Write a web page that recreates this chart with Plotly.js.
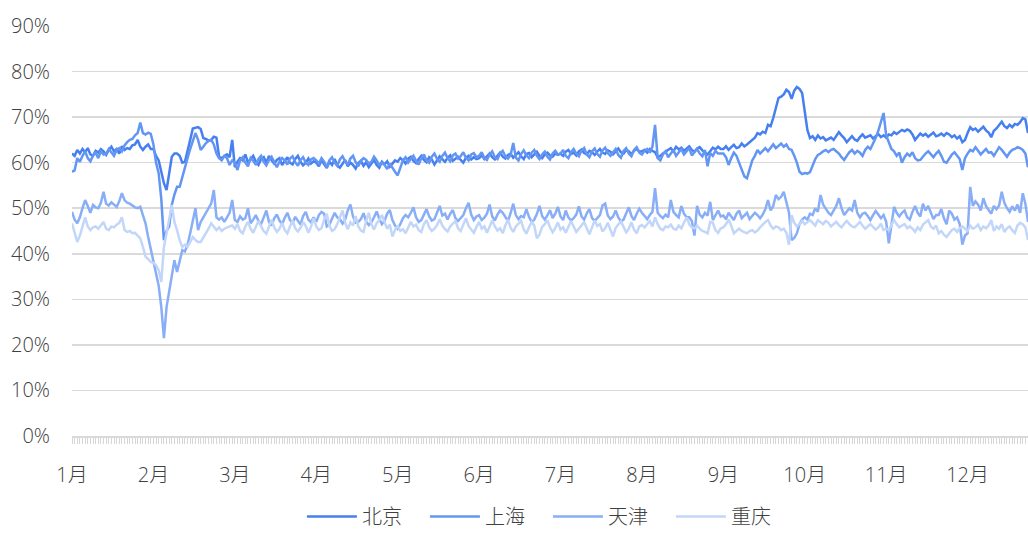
<!DOCTYPE html>
<html>
<head>
<meta charset="utf-8">
<script src="https://cdn.plot.ly/plotly-3.0.1.min.js"></script>
<style>
  html, body { margin: 0; padding: 0; background: #ffffff; }
  #chart { width: 1028px; height: 536px; }
</style>
</head>
<body>
<div id="chart"></div>
<script>
// Month tick labels (one label every 31 daily points)
const monthLabels = ['1月','2月','3月','4月','5月','6月','7月','8月','9月','10月','11月','12月'];
const seriesNames = ['北京','上海','天津','重庆'];

// Daily values (%), one row per month
const beijing = [
  62.0,61.5,62.8,62.0,63.0,62.3,63.2,61.8,61.5,62.6,62.2,63.0,62.5,61.7,62.8,63.5,62.5,63.0,62.0,63.6,62.8,63.2,63.0,63.8,64.0,65.0,63.5,62.8,63.5,64.0,63.0,
  63.0,61.5,60.5,58.0,55.5,54.0,58.0,61.3,62.0,62.0,61.5,60.0,60.2,63.0,65.0,67.5,67.6,67.8,67.4,65.4,65.2,64.8,65.0,65.7,65.5,61.3,61.0,61.5,61.8,61.2,65.0,
  59.0,60.2,61.0,60.5,61.8,60.0,60.8,61.5,60.2,59.5,60.8,61.2,60.0,61.5,60.5,59.8,60.6,61.0,59.5,60.4,61.2,60.0,59.6,60.8,61.5,60.2,59.4,60.0,60.9,59.8,60.3,
  60.0,59.2,60.5,59.6,58.8,60.2,59.5,60.8,59.4,58.9,59.8,60.6,59.2,60.0,59.5,58.7,59.9,60.4,59.3,60.1,59.0,59.7,60.6,59.5,58.9,60.2,59.6,60.3,59.1,59.8,60.5,
  60.2,61.0,60.5,59.8,60.9,61.3,60.4,59.9,60.8,61.5,60.6,60.1,61.2,60.7,59.6,60.5,61.4,60.8,60.2,61.0,61.6,60.4,60.9,61.3,60.6,60.0,61.1,61.5,60.7,61.2,60.8,
  61.0,61.6,60.8,61.4,62.0,61.2,60.7,61.5,62.2,61.3,60.9,61.7,62.0,61.1,61.6,62.3,61.4,60.8,61.9,62.1,61.2,61.7,62.4,61.5,61.0,61.8,62.2,61.6,61.3,62.0,61.7,
  62.0,61.5,62.4,62.8,61.9,62.2,61.6,62.5,62.9,62.1,61.8,62.6,62.3,61.7,62.4,63.0,62.2,61.9,62.7,62.4,61.8,62.5,63.1,62.3,62.0,62.8,62.5,61.9,62.6,63.0,62.4,
  62.5,62.8,62.2,63.0,62.6,62.3,61.2,61.5,62.0,62.4,62.8,63.2,62.5,63.5,62.9,63.3,62.6,63.0,63.6,62.8,62.4,63.1,63.4,62.7,62.2,61.8,62.5,63.3,62.9,63.5,63.0,
  63.0,63.6,62.8,63.4,63.9,63.2,63.4,64.2,63.6,64.0,64.5,64.8,65.5,66.5,66.2,66.8,66.5,68.3,68.0,69.8,72.3,74.2,74.5,75.0,76.0,75.5,74.0,75.8,76.6,76.2,75.3,
  71.0,67.2,65.4,65.8,65.0,66.0,65.3,65.6,64.9,65.2,65.5,65.0,65.8,66.7,66.0,65.4,64.5,65.2,65.8,65.1,64.8,65.6,66.2,65.5,65.7,66.0,65.3,65.9,66.3,65.6,66.0,
  65.5,66.2,66.0,66.7,66.3,66.8,67.2,66.9,67.3,67.0,66.2,65.0,65.8,66.4,65.9,66.3,65.7,66.1,66.6,65.8,66.0,66.4,65.9,66.5,66.2,65.6,66.0,65.3,65.8,64.5,65.0,
  66.5,67.8,67.2,67.5,66.8,67.4,67.9,67.1,66.6,65.6,67.0,67.5,68.2,69.0,68.0,67.6,68.3,67.8,68.5,68.3,68.9,69.8,69.5,66.5
];
const shanghai = [
  58.0,58.3,61.0,60.2,61.5,62.5,61.0,60.3,61.6,62.2,61.0,62.5,61.8,62.0,63.0,62.2,61.5,62.8,63.2,62.5,63.8,64.5,65.0,65.2,66.0,66.5,68.8,66.5,66.2,66.6,66.3,
  64.0,60.0,57.7,52.0,43.0,45.0,46.0,50.7,53.0,54.7,54.7,57.0,59.0,61.0,63.0,65.0,66.5,65.0,62.8,63.5,64.3,64.8,65.0,64.0,62.0,61.0,60.5,61.5,61.0,59.5,60.5,
  60.0,58.4,60.5,61.2,60.0,59.2,61.0,60.4,59.5,60.8,61.5,60.2,59.4,60.6,61.3,60.0,59.0,60.2,61.0,60.5,59.6,60.9,61.4,60.1,59.3,60.6,61.2,60.0,59.5,60.7,61.0,
  60.5,59.8,61.0,60.2,59.0,60.5,61.2,60.0,59.3,60.7,61.4,60.3,59.6,60.9,61.5,60.1,59.2,60.4,61.0,60.6,59.8,60.2,61.3,60.5,59.4,60.0,59.5,58.6,59.8,58.8,58.0,
  57.2,59.0,60.5,61.2,60.0,60.8,61.5,60.4,59.6,61.0,61.8,60.5,60.0,61.3,62.0,60.8,60.2,61.5,62.2,61.0,60.3,61.6,62.0,60.9,61.4,62.3,61.0,60.5,61.8,62.1,61.2,
  61.5,62.3,61.0,60.6,61.8,62.5,61.2,60.8,62.0,62.6,61.4,60.9,61.7,64.3,61.1,60.5,61.9,62.7,61.6,61.0,62.2,62.8,61.5,60.8,61.8,62.4,61.3,60.7,62.0,62.6,61.8,
  62.0,62.8,61.5,61.0,62.3,63.0,62.0,61.4,62.6,63.2,61.8,61.2,62.5,63.1,61.9,61.3,62.7,63.3,62.1,61.5,62.4,63.0,61.7,61.1,62.6,63.2,62.0,61.4,62.8,63.4,62.2,
  61.8,62.6,63.0,62.2,63.5,68.3,61.0,60.5,61.8,62.5,61.2,62.0,62.8,61.5,62.3,63.0,61.8,62.5,63.2,61.6,62.4,63.0,62.0,61.4,62.8,59.2,62.1,61.5,62.6,62.0,62.0,
  62.0,61.2,59.5,61.0,62.2,61.5,60.0,58.5,57.0,56.6,58.5,60.5,61.5,62.8,62.0,62.6,63.2,62.5,63.4,64.0,63.2,63.8,64.2,63.5,64.0,63.0,62.8,61.5,60.0,58.0,57.5,
  57.7,57.6,57.9,59.5,60.8,61.7,62.0,62.5,62.8,62.3,62.8,63.0,62.5,62.0,61.2,60.6,61.5,62.3,62.8,62.0,62.6,62.2,61.5,62.8,63.5,63.0,64.2,65.4,67.0,69.0,70.9,
  66.0,64.3,63.0,62.5,61.5,62.2,60.0,61.2,62.0,61.5,62.3,61.0,60.5,60.6,61.4,62.0,62.5,61.8,61.2,62.0,62.6,61.5,60.2,60.0,61.0,61.8,62.3,61.5,60.8,58.4,61.0,
  62.0,62.8,62.5,63.4,62.6,61.8,62.4,63.0,62.2,62.3,61.5,62.6,63.4,62.8,62.0,61.3,62.2,62.8,63.0,63.4,63.2,62.8,62.0,59.0
];
const tianjin = [
  49.2,47.5,46.7,48.0,50.0,51.8,50.5,49.0,50.7,50.2,50.0,51.2,53.6,51.0,50.6,51.3,50.8,50.3,51.5,53.3,51.8,51.2,51.0,50.5,50.2,50.0,50.3,48.5,46.7,43.7,41.0,
  38.5,36.0,33.0,28.3,21.5,28.3,32.0,35.0,38.6,36.0,38.5,40.8,40.5,42.0,44.5,47.0,50.0,45.2,47.0,48.0,49.0,50.0,51.0,54.0,48.0,47.5,48.0,47.0,48.0,49.0,51.8,
  47.4,47.0,48.2,47.5,47.8,50.0,46.7,47.5,48.5,47.2,46.5,48.0,49.5,47.0,46.2,47.8,48.6,47.3,46.5,47.9,49.0,47.4,46.8,48.1,47.2,46.4,48.3,49.2,47.5,46.9,48.0,
  47.0,48.5,49.2,48.8,46.0,46.4,47.8,49.0,48.0,47.6,46.6,47.5,49.5,50.8,48.2,46.8,47.0,47.6,48.9,47.1,46.3,46.9,48.0,49.3,47.7,46.5,47.2,48.8,49.6,47.4,46.2,
  45.5,46.5,47.8,48.5,48.0,49.0,50.2,48.0,47.0,47.4,48.6,49.8,48.2,47.3,47.6,49.0,50.5,48.4,48.8,47.5,48.8,49.6,47.8,47.2,47.9,48.5,50.0,51.2,48.6,47.4,48.2,
  48.5,47.4,47.9,48.8,50.8,48.2,47.3,48.6,49.5,49.0,48.0,47.2,48.9,51.0,48.5,47.6,48.3,48.0,49.8,48.1,47.0,47.5,48.7,50.5,48.3,47.5,48.4,49.6,47.8,48.8,50.3,
  48.2,47.4,49.5,48.0,47.3,47.8,48.6,50.4,48.2,47.5,48.9,49.8,47.9,47.2,47.8,48.5,50.6,51.0,48.4,47.6,48.2,49.5,48.0,47.1,47.5,48.7,50.2,48.3,47.4,48.8,49.9,
  49.0,48.2,47.6,48.5,49.2,54.4,49.0,48.3,47.8,48.6,48.0,51.8,49.2,48.5,48.0,50.5,48.8,48.0,48.0,47.2,44.0,50.5,48.6,48.0,49.0,48.4,51.4,47.4,48.6,49.5,48.2,
  48.4,47.6,49.0,48.2,47.4,48.8,49.5,47.8,48.5,49.0,47.6,48.3,49.0,48.5,47.8,48.6,49.8,51.8,49.5,50.5,52.9,52.0,52.5,53.6,51.0,49.0,43.0,43.5,44.5,46.5,47.5,
  48.0,47.5,48.8,48.5,50.0,49.2,52.9,50.8,50.0,49.0,48.5,49.6,50.5,52.2,50.0,48.5,49.2,50.0,49.5,51.8,49.0,48.0,48.8,49.0,48.3,47.4,48.5,49.4,48.6,47.8,48.5,
  47.0,42.3,46.5,50.3,49.0,48.2,49.0,49.5,48.0,47.5,49.2,50.5,49.0,48.2,51.0,49.5,50.5,48.8,47.6,48.5,48.5,49.8,47.8,46.5,49.5,48.8,47.5,48.0,46.5,42.0,44.0,
  44.5,54.7,50.5,51.5,50.8,49.5,52.2,50.5,49.6,48.8,50.5,49.8,50.6,53.6,51.2,50.0,49.2,50.4,49.5,50.8,49.0,53.3,51.0,47.0
];
const chongqing = [
  46.7,44.5,42.6,44.0,45.8,48.0,46.0,45.2,45.8,46.0,45.5,46.2,47.0,45.5,45.2,46.0,45.8,46.4,46.8,48.0,45.2,44.8,45.0,44.5,44.6,44.0,43.4,41.5,39.4,38.8,38.2,
  38.0,37.5,36.4,33.8,41.5,45.0,47.5,50.7,47.0,45.2,43.0,41.5,42.0,41.5,42.5,43.7,43.0,42.6,42.6,43.5,44.5,45.5,46.7,46.0,45.2,45.8,45.0,45.5,45.8,46.0,46.2,
  45.5,46.5,45.0,44.5,46.0,47.0,45.5,44.6,45.8,47.2,46.0,45.0,44.4,46.2,47.5,45.8,44.8,45.5,46.8,45.2,44.5,46.0,47.3,45.6,44.9,45.7,47.0,46.1,44.6,45.9,47.8,
  46.0,45.2,45.6,47.5,48.8,46.2,45.0,45.4,46.5,48.0,49.5,46.8,45.4,46.9,46.2,48.3,46.0,45.1,44.8,47.2,49.0,46.5,45.3,46.7,47.4,48.5,47.0,45.5,46.4,43.8,45.2,
  46.2,45.0,45.4,44.5,45.8,47.0,46.0,46.4,45.2,44.8,46.5,47.4,45.8,45.0,45.5,46.3,47.6,46.2,45.4,44.9,46.0,46.5,47.2,45.6,45.0,46.4,47.8,46.1,45.2,44.6,45.9,
  47.0,45.5,46.0,44.6,45.9,47.3,46.0,45.1,45.6,44.5,46.2,47.5,45.7,44.8,46.0,46.6,47.2,45.4,44.4,45.8,47.0,46.2,43.4,44.2,45.9,46.5,47.4,45.8,44.7,45.6,46.9,
  45.3,45.8,44.6,45.9,47.2,46.0,44.8,45.5,46.2,47.0,45.6,44.3,45.8,47.3,46.1,46.5,44.9,45.6,46.8,45.2,43.8,45.7,46.4,47.1,45.9,44.7,45.5,46.9,45.3,44.5,46.0,
  46.3,45.8,46.6,47.2,46.0,48.0,46.5,45.5,45.2,46.0,45.8,46.4,45.5,45.3,46.2,45.6,46.8,48.0,46.5,45.8,45.6,46.2,45.5,45.0,44.8,44.5,47.0,46.8,45.2,44.6,45.6,
  45.8,46.5,47.5,46.2,44.5,45.0,45.5,45.0,44.8,44.5,45.0,45.2,44.7,45.1,45.8,46.5,47.0,47.4,46.2,45.5,46.0,45.8,45.2,45.5,44.6,42.0,48.5,46.8,46.0,46.5,47.2,
  46.5,47.0,47.4,46.8,46.2,47.4,47.0,46.5,47.2,46.8,46.0,46.5,47.0,46.3,45.8,46.6,47.2,46.5,46.0,45.8,46.4,47.0,46.2,45.5,46.0,46.5,45.9,45.3,45.8,46.6,45.2,
  45.5,45.2,46.4,47.4,46.5,45.8,46.2,46.5,45.6,46.0,45.5,44.8,45.8,45.2,46.4,46.8,47.4,46.0,45.5,46.2,44.5,45.0,44.2,43.7,44.5,45.2,45.5,44.8,45.6,46.0,45.5,
  45.0,46.2,45.5,45.8,46.4,45.2,46.0,45.6,46.2,47.4,45.0,46.0,45.5,46.5,44.8,45.6,46.0,45.2,44.6,46.2,46.8,46.5,45.8,43.0
];

const colors = ['#4680F0', '#6396F3', '#87AEF6', '#C2D6FA'];
const allSeries = [beijing, shanghai, tianjin, chongqing];
const N = beijing.length;
const xIdx = Array.from({length: N}, (_, i) => i);
const monthTickPos = monthLabels.map((_, k) => k * 31);

const FONT = '"Open Sans", "Noto Sans CJK SC", sans-serif';
const TEXT = '#404040';

const traces = allSeries.map((ys, k) => ({
  type: 'scatter',
  mode: 'lines',
  name: seriesNames[k],
  x: xIdx,
  y: ys,
  line: {color: colors[k], width: 2.5},
  hoverinfo: 'skip'
}));

const layout = {
  width: 1028,
  height: 536,
  margin: {l: 72, r: 0, t: 26, b: 100, pad: 0, autoexpand: false},
  paper_bgcolor: '#ffffff',
  plot_bgcolor: '#ffffff',
  font: {family: FONT, size: 20, color: TEXT, weight: 300},
  showlegend: true,
  legend: {
    orientation: 'h',
    xref: 'container', yref: 'container',
    x: 0.533, xanchor: 'center',
    y: 0, yanchor: 'bottom',
    font: {family: FONT, size: 20, color: TEXT, weight: 300},
    entrywidth: 58, entrywidthmode: 'pixels',
    itemwidth: 50,
    traceorder: 'normal'
  },
  xaxis: {
    range: [0, N - 1],
    tickmode: 'array',
    tickvals: monthTickPos,
    ticktext: monthLabels,
    showgrid: false,
    zeroline: false,
    showline: true,
    linecolor: '#d9d9d9',
    linewidth: 1.5,
    ticks: 'outside',
    ticklen: 6,
    tickcolor: '#d6d6d6',
    tickwidth: 1,
    ticklabelstandoff: 14,
    minor: {dtick: 1, tick0: 0, ticks: 'outside', ticklen: 6, tickcolor: '#d6d6d6', tickwidth: 1, showgrid: false},
    tickfont: {family: FONT, size: 20, color: TEXT, weight: 300},
    fixedrange: true
  },
  yaxis: {
    range: [0, 90],
    dtick: 10,
    tick0: 0,
    ticksuffix: '%',
    showgrid: true,
    gridcolor: '#dadada',
    gridwidth: 1.5,
    zeroline: false,
    showline: false,
    ticks: '',
    ticklabelstandoff: 21,
    tickfont: {family: FONT, size: 20, color: TEXT, weight: 300},
    fixedrange: true
  },
  hovermode: false
};

Plotly.newPlot('chart', traces, layout, {displayModeBar: false, staticPlot: true});
</script>
</body>
</html>
